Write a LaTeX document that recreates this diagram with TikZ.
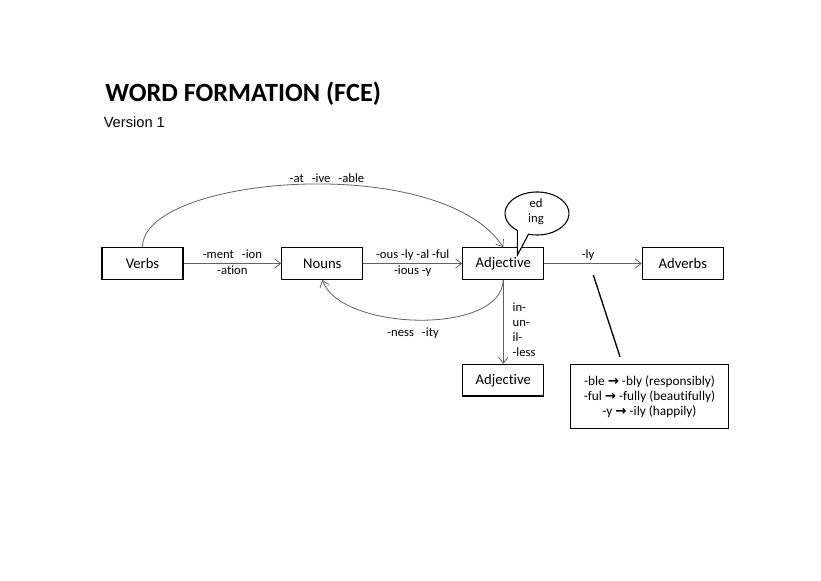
\documentclass[tikz,border=0pt]{standalone}
\usepackage{fontspec}
\setmainfont{Carlito}[Ligatures=NoCommon]
\newfontfamily\arialfont{Liberation Sans}
\newfontfamily\symfont{DejaVu Sans}
\usepackage{tikz}
\usetikzlibrary{calc, arrows.meta}
\newcommand{\arr}{{\symfont\bfseries →}}

\begin{document}
\begin{tikzpicture}[x=0.75pt, y=0.75pt,
  word/.style={draw, line width=0.8pt, minimum width=60.75pt, minimum height=23.7pt, inner sep=0pt, font=\fontsize{11}{13}\selectfont},
  link/.style={-{Straight Barb[length=4.5pt, width=7pt]}, draw=black!62, line width=0.6pt},
  suffix/.style={font=\fontsize{9.5}{11.25}\selectfont, inner sep=1pt},
  over/.style={suffix, anchor=base, yshift=3.75pt},
  under/.style={suffix, anchor=base, yshift=-8.25pt}]
\useasboundingbox (0, 0) rectangle (821, 581);
\node[anchor=base west, inner sep=0pt, font=\fontsize{19.7}{22}\selectfont\bfseries] (title) at (105, 479.3) {WORD FORMATION (FCE)};
\node[anchor=base west, inner sep=0pt, font=\arialfont\fontsize{11}{13}\selectfont] (version) at (103.5, 453.3) {Version 1};
\node[word] (verbs) at (142.5, 317.5) {Verbs};
\node[word] (nouns) at (322.3, 317.5) {Nouns};
\node[word] (adj) at (503.2, 317.5) {Adjective};
\node[word] (adverbs) at (682.8, 317.5) {Adverbs};
\node[word] (adjneg) at (503.2, 200.8) {Adjective};
\node[draw, line width=0.8pt, minimum width=118.8pt, minimum height=48.3pt, align=center, font=\fontsize{10}{11.25}\selectfont] (rules) at (649.5, 184.5) {-ble \arr{} -bly (responsibly)\\-ful \arr{} -fully (beautifully)\\-y \arr{} -ily (happily)};
\draw[link] (verbs) -- node[over]{-ment\hspace{6pt}-ion} node[under]{-ation} (nouns);
\draw[link] (nouns) -- node[over]{-ous -ly -al -ful} node[under]{-ious -y} (adj);
\draw[link] (adj) -- node[over, pos=0.45]{-ly} (adverbs);
\draw[link] (adj) -- (adjneg);
\node[suffix, anchor=west, align=left] (prefixes) at (511, 251) {in-\\un-\\il-\\-less};
\draw[link] (verbs.north) .. controls (142, 405) and (440, 430) .. (adj.north);
\node[suffix] (adjsuffix) at (327, 403) {-at\hspace{6pt}-ive\hspace{6pt}-able};
\draw[link] (adj.south) .. controls (502, 245) and (340, 250) .. (nouns.south);
\node[suffix] (nounsuffix) at (413, 248) {-ness\hspace{6pt}-ity};
\draw[line width=0.8pt, fill=white] (537, 367.5) ++(254.6:32 and 21.5) arc[start angle=254.6, end angle=592, x radius=32, y radius=21.5] -- (517.5, 326) -- cycle;
\node[suffix, align=center] (ending) at (536, 369.5) {ed\\ing};
\coordinate (lyfoot) at (593.3, 306);
\coordinate (rulehead) at (620, 224.3);
\draw[line width=1pt] (lyfoot) -- (rulehead);
\end{tikzpicture}
\end{document}
